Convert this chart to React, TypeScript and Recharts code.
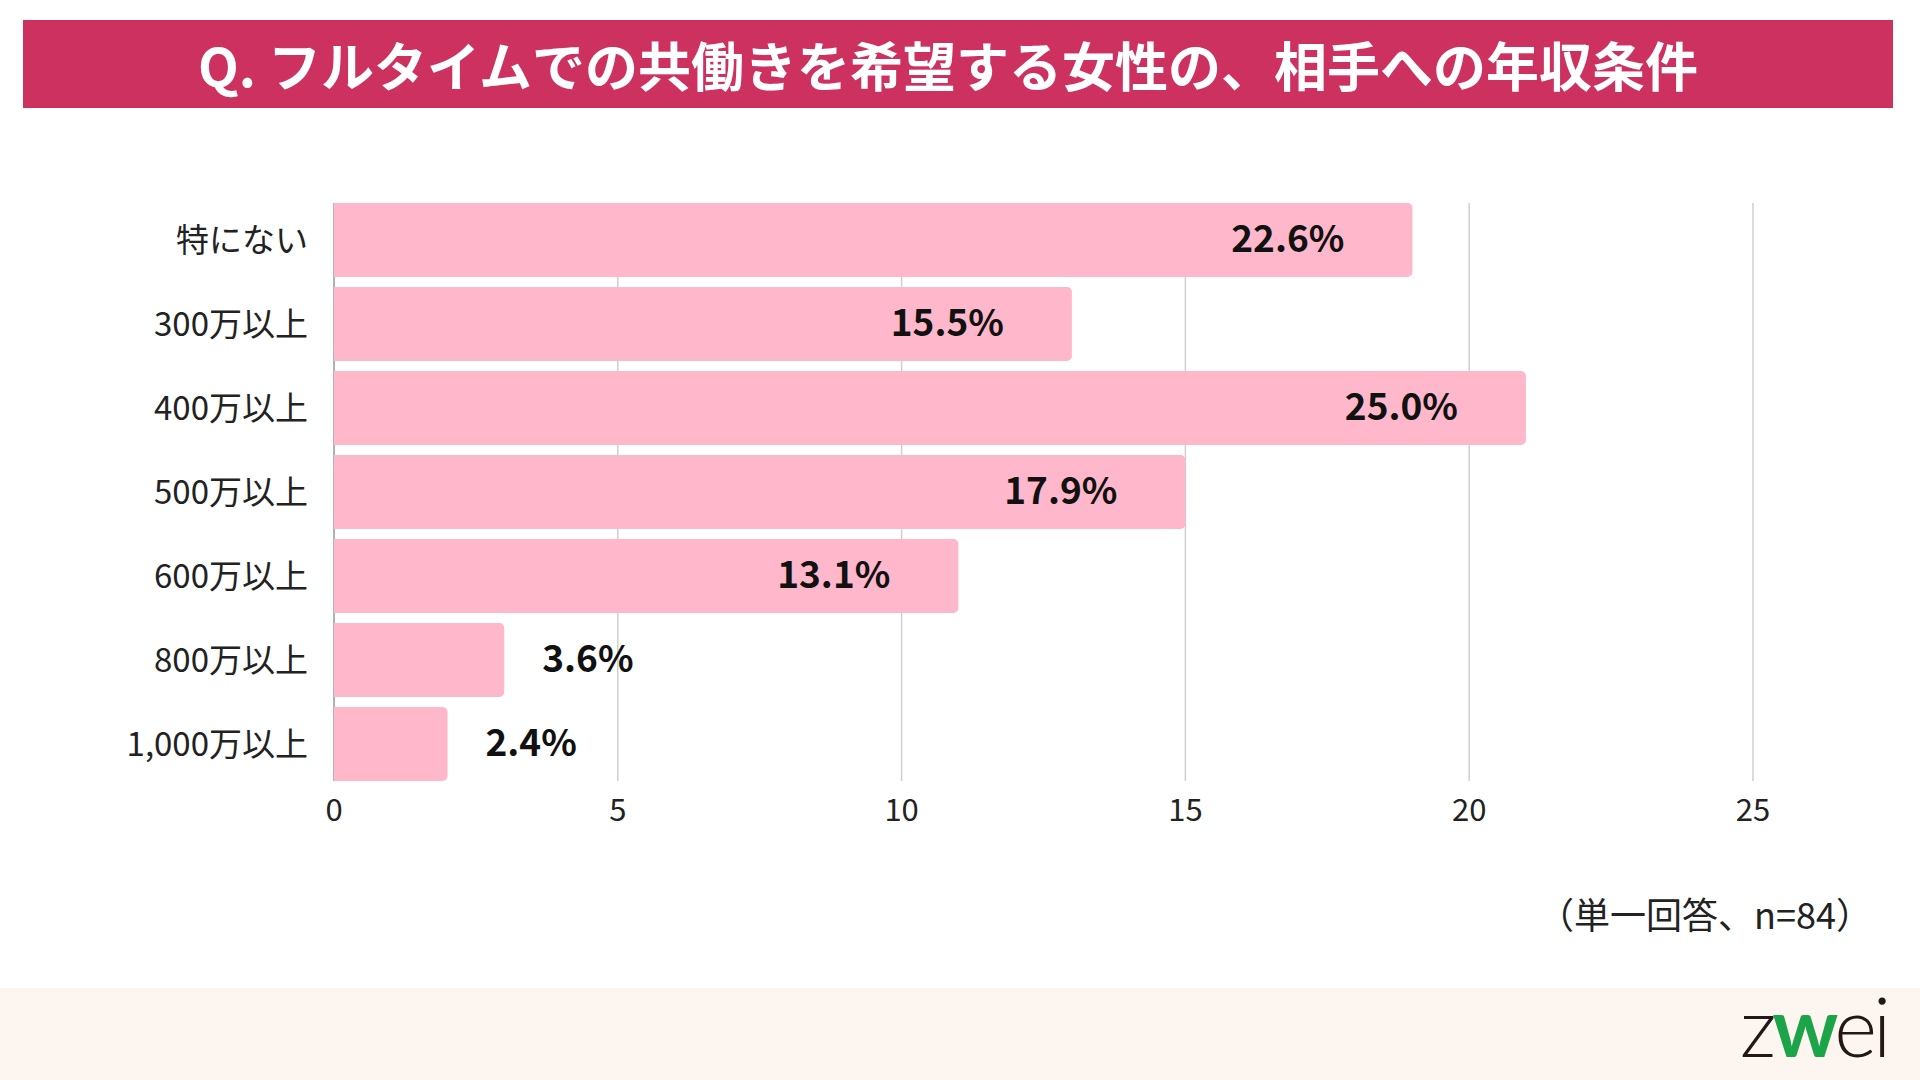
import { Bar, BarChart, CartesianGrid, LabelList, XAxis, YAxis } from "recharts";

const categories = ["特にない", "300万以上", "400万以上", "500万以上", "600万以上", "800万以上", "1,000万以上"];
// bar length = number of answers, label = share of n=84
const counts = [19, 13, 21, 15, 11, 3, 2];
const percents = [22.6, 15.5, 25.0, 17.9, 13.1, 3.6, 2.4];
const xTicks = [0, 5, 10, 15, 20, 25];

const JP = '"Noto Sans CJK JP", "Noto Sans", sans-serif';

const data = categories.map((name, i) => ({ name, count: counts[i], pct: percents[i] }));

function PctLabel(props: any) {
  const { x, y, width, height, value } = props;
  const inside = width > 200;
  return (
    <text
      x={inside ? x + width - 68 : x + width + 38}
      y={y + height / 2}
      dy="0.33em"
      textAnchor={inside ? "end" : "start"}
      fontFamily={JP}
      fontSize={37}
      fontWeight={700}
      fill="#111"
    >
      {`${Number(value).toFixed(1)}%`}
    </text>
  );
}

function GridLine(p: any) {
  return (
    <line
      key={`v-${p.index}`}
      x1={p.x1}
      x2={p.x2}
      y1={p.y1 + 5}
      y2={p.y2 - 5}
      stroke={p.index === 0 ? "#9a9a9a" : "#cfcfcf"}
      strokeWidth={1.5}
    />
  );
}

export default function App() {
  return (
    <div style={{ position: "absolute", left: 0, top: 0, width: 1920, height: 1080, background: "#fff", overflow: "hidden", fontFamily: JP }}>
      <div
        style={{
          position: "absolute", left: 23, top: 20, width: 1870, height: 88, background: "#CD3160",
          color: "#fff", fontSize: 53, fontWeight: 700, display: "flex", alignItems: "center", justifyContent: "center",
          paddingRight: 20, boxSizing: "border-box",
        }}
      >
        Q. フルタイムでの共働きを希望する女性の、相手への年収条件
      </div>

      <div style={{ position: "absolute", left: 0, top: 0 }}>
        <BarChart
          width={1920}
          height={1080}
          data={data}
          layout="vertical"
          margin={{ top: 198, right: 167, bottom: 234, left: 34 }}
          barCategoryGap={5}
        >
          <CartesianGrid horizontal={false} vertical={GridLine} />
          <XAxis
            type="number"
            domain={[0, 25]}
            ticks={xTicks}
            axisLine={false}
            tickLine={false}
            tickSize={0}
            tickMargin={13}
            height={60}
            tick={{ fontSize: 31, fill: "#222", fontFamily: JP }}
          />
          <YAxis
            type="category"
            dataKey="name"
            width={300}
            axisLine={false}
            tickLine={false}
            tickSize={0}
            tickMargin={26}
            tick={{ fontSize: 33, fill: "#222", fontFamily: JP }}
          />
          <Bar dataKey="count" fill="#FFB7CB" radius={[0, 5, 5, 0]} isAnimationActive={false}>
            <LabelList dataKey="pct" content={PctLabel} />
          </Bar>
        </BarChart>
      </div>

      <div style={{ position: "absolute", right: 48, top: 890, fontSize: 36, color: "#222", lineHeight: "46px" }}>
        （単一回答、n=84）
      </div>

      <div style={{ position: "absolute", left: 0, top: 988, width: 1920, height: 92, background: "#FDF5EF" }} />
      <div
        style={{
          position: "absolute", left: 1740, top: 975, fontFamily: "Lato, sans-serif", fontWeight: 300,
          fontSize: 82, letterSpacing: -4, color: "#231815", lineHeight: "100px",
        }}
      >
        z<span style={{ color: "#1CA548", fontWeight: 700 }}>w</span>ei
      </div>
    </div>
  );
}
